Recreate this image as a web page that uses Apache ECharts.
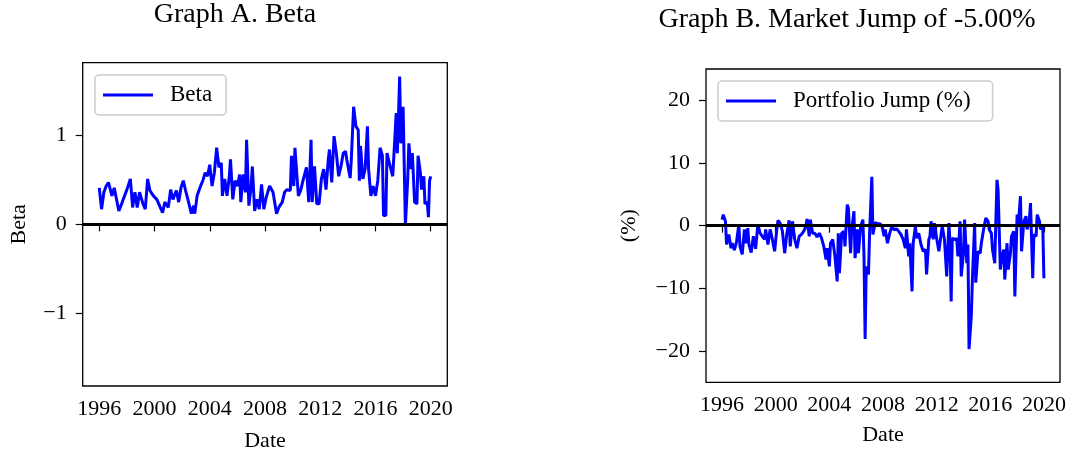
<!DOCTYPE html>
<html>
<head>
<meta charset="utf-8">
<script src="https://cdn.jsdelivr.net/npm/echarts@6/dist/echarts.min.js"></script>
<style>
html,body{margin:0;padding:0;background:#fff;}
#chart{width:1072px;height:457px;}
</style>
</head>
<body>
<div id="chart"></div>
<script>
// Months since Jan 1996 and values (Graph A: Beta)
const betaMonth = [0,2,4,6,8,11,13,15,17,20,22,24,27,29,31,33,35,38,40,42,44,47,50,53,55,57,60,62,64,67,69,71,73,75,77,80,82,83,85,88,90,92,94,96,98,100,102,104,106,107,109,111,113,114,116,118,120,122,123,125,127,128,130,132,133,135,137,139,141,143,145,148,151,154,156,159,161,163,166,167,169,170,171,173,175,177,180,182,184,185,187,189,191,193,195,197,199,200,202,204,206,208,210,212,214,215,218,219,221,223,225,226,227,229,231,233,234,236,238,240,242,244,246,247,249,250,252,255,256,258,259,261,262,264,265,266,268,269,271,272,274,276,277,279,280,282,283,285,286,287,288];
const betaValue = [0.41,0.17,0.36,0.43,0.47,0.32,0.41,0.28,0.15,0.25,0.32,0.39,0.51,0.19,0.36,0.19,0.36,0.23,0.17,0.51,0.38,0.32,0.28,0.19,0.13,0.25,0.19,0.39,0.28,0.38,0.25,0.41,0.49,0.38,0.28,0.12,0.21,0.12,0.32,0.43,0.49,0.58,0.54,0.67,0.43,0.58,0.86,0.64,0.69,0.32,0.51,0.32,0.54,0.73,0.28,0.49,0.43,0.56,0.25,0.56,0.36,0.95,0.21,0.43,0.65,0.15,0.28,0.17,0.45,0.17,0.30,0.43,0.36,0.12,0.19,0.25,0.36,0.39,0.38,0.77,0.43,0.86,0.88,0.32,0.38,0.49,0.64,0.25,0.95,0.25,0.65,0.23,0.23,0.51,0.62,0.39,0.73,0.84,0.47,0.99,0.80,0.54,0.65,0.80,0.82,0.73,0.52,0.73,1.32,1.10,1.06,0.49,0.88,0.51,0.62,1.10,0.62,0.32,0.43,0.32,0.49,0.86,0.77,0.10,0.10,0.80,0.69,0.54,0.54,1.25,0.80,1.66,0.91,1.32,0.65,-0.01,0.51,0.91,0.62,0.80,0.25,0.23,0.77,0.58,0.39,0.54,0.23,0.25,0.08,0.49,0.54];

// Months since Jan 1996 and values (Graph B: Portfolio Jump, %)
const jumpMonth = [0,1,3,4,6,8,9,11,13,15,16,18,20,21,23,24,26,28,30,32,34,36,38,39,41,43,45,47,49,50,52,54,56,58,60,61,63,65,67,69,71,73,75,76,78,79,81,83,85,87,89,91,93,94,96,97,99,101,103,104,105,107,109,110,112,113,115,116,118,119,121,122,124,126,127,128,129,131,132,134,135,137,139,141,143,145,146,148,150,152,154,156,158,160,162,164,165,167,168,170,171,173,174,176,178,180,182,183,185,186,187,189,190,192,194,196,197,199,201,203,204,205,206,208,210,211,213,214,216,217,219,220,221,223,224,226,227,229,231,232,234,236,238,239,241,242,244,246,247,249,250,252,253,255,256,258,259,261,262,264,265,267,268,270,272,273,275,276,278,279,281,282,284,285,287,288];
const jumpValue = [0.96,1.76,0.7,-3.0,-1.4,-3.6,-2.8,-3.9,-2.5,0.2,-3.3,-4.6,-0.6,-2.8,-0.4,-3.0,-4.3,-1.7,-3.7,0.2,-1.2,-1.7,-2.2,-0.6,-3.0,-0.6,-2.2,-4.1,-0.6,0.85,0.4,-0.9,-4.4,-1.2,0.85,-3.3,0.7,-2.2,-3.6,-1.7,-1.4,-0.9,-0.1,1.06,-1.7,0.96,-1.2,-1.2,-1.8,-1.2,-2.0,-3.3,-5.4,-3.6,-6.5,-2.8,-2.2,-4.9,-8.9,-1.2,-7.6,-1.2,-0.9,-3.3,3.35,2.8,-4.4,-0.6,2.3,-5.2,-0.6,-4.4,-0.1,0.96,-4.9,-18.1,-6.5,-7.8,-1.2,7.8,-1.4,0.5,0.3,0.3,0.0,-1.7,-0.6,-2.8,-1.2,-0.1,-0.7,-0.5,-0.9,-1.4,-2.2,-3.6,-0.6,-4.9,-2.8,-10.5,-2.8,-0.1,-2.0,-1.2,-3.0,-4.1,-3.8,-7.8,-2.2,-1.7,0.7,-2.2,0.4,-2.0,-4.1,-1.4,-0.1,-2.2,-8.1,0.4,-2.8,-12.1,-2.0,-2.2,-2.1,-4.9,0.7,-8.1,-4.4,0.96,-6.0,-3.0,-19.7,-14.5,-8.6,0.4,-9.1,-4.1,-4.4,-2.8,-0.6,1.2,0.7,-0.6,-1.2,-3.8,-6.0,7.3,5.7,-7.0,-5.4,-3.8,-8.6,-2.8,-7.0,-4.4,-1.7,-0.9,-11.3,1.76,-0.1,4.7,-4.1,0.7,1.5,-0.6,0.96,3.6,-8.4,-1.4,-1.7,1.76,0.7,-0.6,-0.1,-8.4];

const yearTicks = [1996,2000,2004,2008,2012,2016,2020];
const betaTicks = [-1,0,1];
const jumpTicks = [-20,-10,0,10,20];

const FONT = 'Liberation Serif';
const toPts = (months, vals) => months.map((m, i) => [1996 + m / 12, vals[i]]);
const minusFmt = v => (v < 0 ? '\u2212' + Math.abs(v) : String(v));

function xAxisCfg(gridIndex, nameGap) {
  return {
    type: 'value', gridIndex, min: 1994.8, max: 2021.2,
    name: 'Date', nameLocation: 'middle', nameGap,
    nameTextStyle: { fontFamily: FONT, fontSize: 22, color: '#000' },
    axisLine: { show: false },
    splitLine: { show: false },
    axisTick: { show: true, length: 7, inside: false, customValues: yearTicks, lineStyle: { color: '#000', width: 1.2 } },
    axisLabel: { customValues: yearTicks, margin: 12, fontFamily: FONT, fontSize: 22, color: '#000', formatter: v => String(v) }
  };
}
function yAxisCfg(gridIndex, lim, ticks, name, nameGap) {
  return {
    type: 'value', gridIndex, min: -lim, max: lim,
    name, nameLocation: 'middle', nameGap, nameRotate: 90,
    nameTextStyle: { fontFamily: FONT, fontSize: 22, color: '#000' },
    axisLine: { show: false },
    splitLine: { show: false },
    axisTick: { show: true, length: 7, inside: false, customValues: ticks, lineStyle: { color: '#000', width: 1.2 } },
    axisLabel: { customValues: ticks, margin: 16, fontFamily: FONT, fontSize: 22, color: '#000', formatter: minusFmt }
  };
}
const zeroLine = {
  silent: true, symbol: ['none', 'none'],
  label: { show: false },
  lineStyle: { color: '#000', width: 3, type: 'solid' },
  emphasis: { disabled: true },
  data: [{ yAxis: 0 }]
};
function legendCfg(name, left, top, padRight) {
  return {
    data: [name], left, top, orient: 'horizontal',
    icon: 'rect', itemWidth: 50, itemHeight: 3,
    padding: [8, padRight, 8, 8],
    borderColor: '#cccccc', borderWidth: 1.5, borderRadius: 4,
    backgroundColor: 'rgba(255,255,255,0.8)',
    selectedMode: false,
    textStyle: { fontFamily: FONT, fontSize: 23, color: '#000', lineHeight: 24, padding: [0, 0, 0, 12] }
  };
}

const chart = echarts.init(document.getElementById('chart'), null, { renderer: 'canvas' });
chart.setOption({
  animation: false,
  backgroundColor: '#fff',
  graphic: [
    { type: 'text', x: 235, y: 15, style: { text: 'Graph A. Beta', fontFamily: FONT, fontSize: 28, fill: '#000', textAlign: 'center', textVerticalAlign: 'middle' } },
    { type: 'text', x: 847, y: 20, style: { text: 'Graph B. Market Jump of -5.00%', fontFamily: FONT, fontSize: 28, fill: '#000', textAlign: 'center', textVerticalAlign: 'middle' } }
  ],
  grid: [
    { left: 82.7, top: 62.7, width: 364.6, height: 324, show: true, borderColor: '#000', borderWidth: 1.3, backgroundColor: 'transparent', containLabel: false },
    { left: 706, top: 69, width: 354, height: 313.3, show: true, borderColor: '#000', borderWidth: 1.3, backgroundColor: 'transparent', containLabel: false }
  ],
  xAxis: [xAxisCfg(0, 44), xAxisCfg(1, 42)],
  yAxis: [yAxisCfg(0, 1.815, betaTicks, 'Beta', 52), yAxisCfg(1, 25, jumpTicks, '(%)', 66)],
  legend: [legendCfg('Beta', 95, 75, 14), legendCfg('Portfolio Jump (%)', 718, 81, 22)],
  series: [
    { name: 'Beta', type: 'line', xAxisIndex: 0, yAxisIndex: 0, data: toPts(betaMonth, betaValue),
      showSymbol: false, symbol: 'none', lineStyle: { color: '#0000ff', width: 3 }, itemStyle: { color: '#0000ff' },
      emphasis: { disabled: true }, markLine: zeroLine },
    { name: 'Portfolio Jump (%)', type: 'line', xAxisIndex: 1, yAxisIndex: 1, data: toPts(jumpMonth, jumpValue),
      showSymbol: false, symbol: 'none', lineStyle: { color: '#0000ff', width: 3 }, itemStyle: { color: '#0000ff' },
      emphasis: { disabled: true }, markLine: zeroLine }
  ]
});
</script>
</body>
</html>
